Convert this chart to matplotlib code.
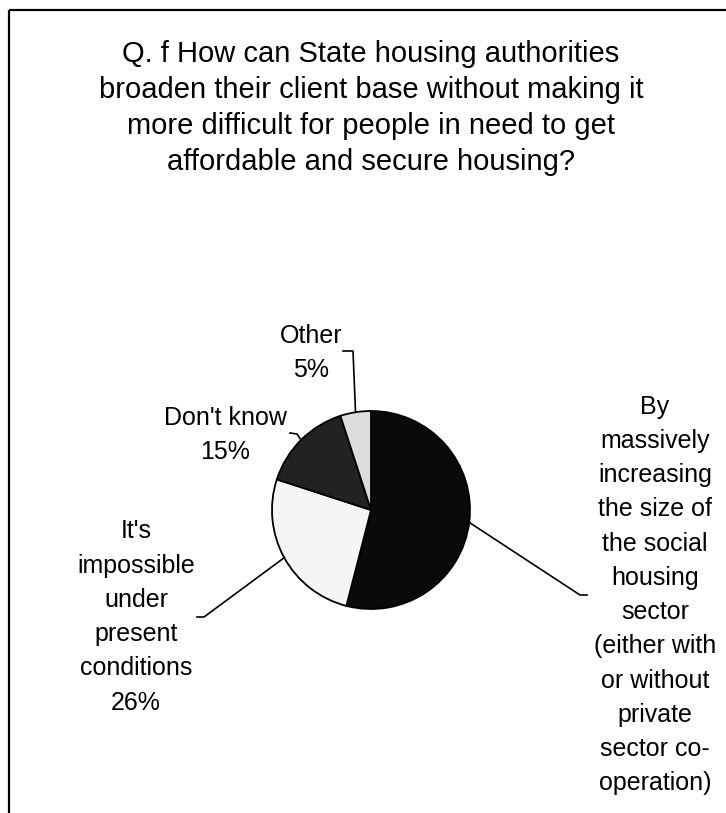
import numpy as np
import matplotlib.pyplot as plt
from matplotlib.patches import Rectangle

plt.rcParams['font.family'] = ['Liberation Sans', 'DejaVu Sans']

# survey answers, clockwise from 12 o'clock
labels = [
    "By\nmassively\nincreasing\nthe size of\nthe social\nhousing\nsector\n(either with\nor without\nprivate\nsector co-\noperation)",
    "It's\nimpossible\nunder\npresent\nconditions",
    "Don't know",
    "Other",
]
shares = [54, 26, 15, 5]
show_pct = [False, True, True, True]
colors = ['#0a0a0a', '#f5f5f5', '#222222', '#dcdcdc']

title = ("Q. f How can State housing authorities\n"
         "broaden their client base without making it\n"
         "more difficult for people in need to get\n"
         "affordable and secure housing?")

W, H = 726, 813
fig = plt.figure(figsize=(W / 100, H / 100), dpi=100)
ax = fig.add_axes([0, 0, 1, 1])

cx, cy, r = 371, 510, 99
# y axis is flipped below, so counterclock=True runs clockwise on screen
wedges, _ = ax.pie(shares, colors=colors, startangle=-90, counterclock=True,
                   center=(cx, cy), radius=r, frame=True,
                   wedgeprops=dict(edgecolor='black', linewidth=1.3))
ax.set_xlim(0, W)
ax.set_ylim(H, 0)
ax.set_aspect('equal')
ax.axis('off')

# chart border (right and bottom edges fall outside the image)
ax.add_patch(Rectangle((9, 10), W + 20, H + 20, fill=False, lw=1.6, ec='black'))

ax.text(371, 108, title, ha='center', va='center', fontsize=21,
        linespacing=1.37, multialignment='center')

# label anchors: (text centre, elbow point, tip point)
anchors = [
    ((655, 595), (580, 595), (587, 595)),
    ((136, 617), (204, 617), (197, 617)),
    ((225, 435), (297, 434), (290, 433)),
    ((311, 353), (353, 351), (343, 351)),
]

for w, lab, val, pct, (tc, elbow, tip) in zip(wedges, labels, shares, show_pct, anchors):
    mid = np.deg2rad((w.theta1 + w.theta2) / 2)
    ex, ey = cx + r * np.cos(mid), cy + r * np.sin(mid)
    ax.plot([ex, elbow[0], tip[0]], [ey, elbow[1], tip[1]], color='black', lw=1.2)
    txt = f"{lab}\n{val}%" if pct else lab
    ax.text(tc[0], tc[1], txt, ha='center', va='center', fontsize=18,
            linespacing=1.54, multialignment='center')

fig.savefig('out.png', dpi=100, facecolor='white')
